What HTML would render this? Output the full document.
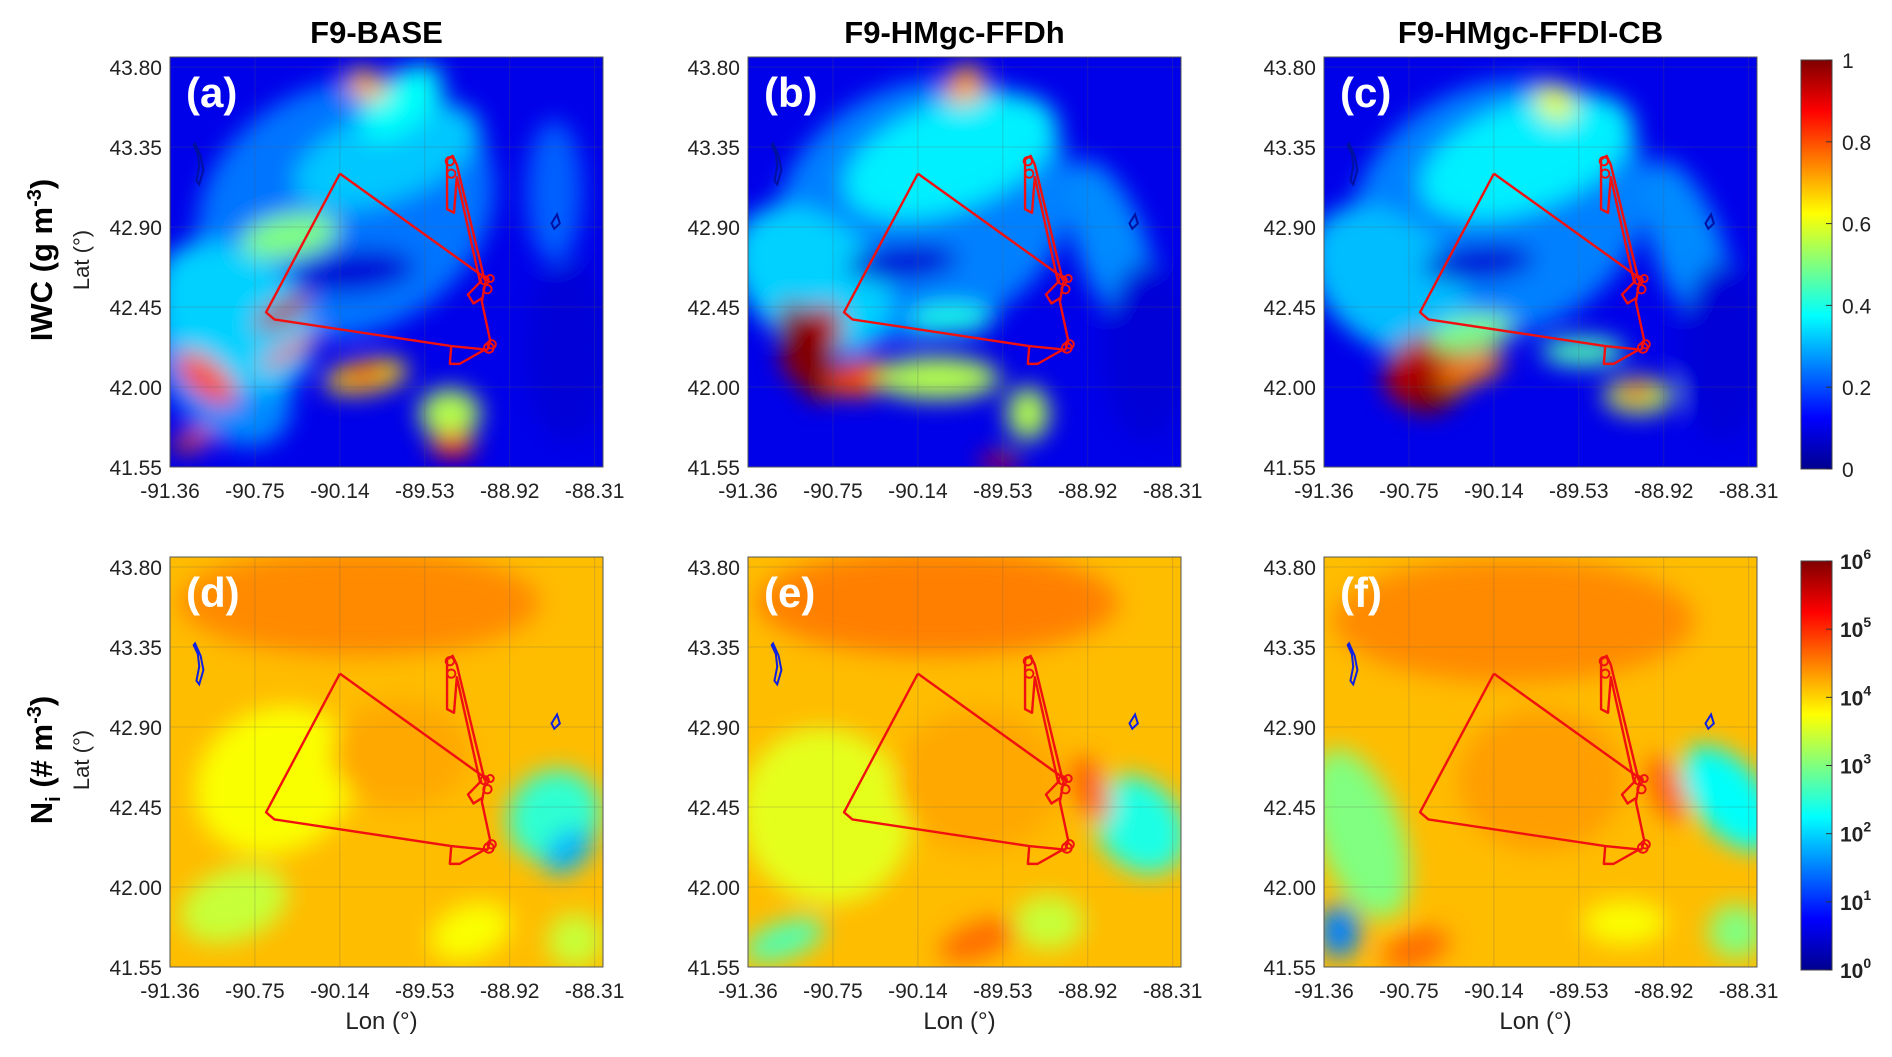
<!DOCTYPE html>
<html><head><meta charset="utf-8">
<style>
html,body{margin:0;padding:0;background:#fff;}
svg{display:block;font-family:"Liberation Sans",sans-serif;}
</style></head>
<body>
<svg id="fig" width="1892" height="1057" viewBox="0 0 1892 1057" xmlns="http://www.w3.org/2000/svg">
<defs>
<filter id="blur" x="-50%" y="-50%" width="200%" height="200%"><feGaussianBlur stdDeviation="12"/></filter>
<linearGradient id="jet" x1="0" y1="1" x2="0" y2="0">
<stop offset="0" stop-color="#00008f"/><stop offset="0.125" stop-color="#0000ff"/><stop offset="0.375" stop-color="#00ffff"/><stop offset="0.625" stop-color="#ffff00"/><stop offset="0.875" stop-color="#ff0000"/><stop offset="1" stop-color="#800000"/>
</linearGradient>
</defs>
<g id="root"></g>
</svg>
<script>
// ---- data ----
const lonTicks = [-91.36, -90.75, -90.14, -89.53, -88.92, -88.31];
const latTicks = [43.80, 43.35, 42.90, 42.45, 42.00, 41.55];
const lonTickLabels = ["-91.36","-90.75","-90.14","-89.53","-88.92","-88.31"];
const latTickLabels = ["43.80","43.35","42.90","42.45","42.00","41.55"];
const panelTitles = ["F9-BASE","F9-HMgc-FFDh","F9-HMgc-FFDl-CB"];
const panelLetters = ["(a)","(b)","(c)","(d)","(e)","(f)"];
const iwcTicks = [0,0.2,0.4,0.6,0.8,1];
const niTickExps = [0,1,2,3,4,5,6];
// flight track (lon, lat)
const trackMain = [[-90.14,43.20],[-90.67,42.42],[-90.61,42.38],[-89.34,42.23],[-89.08,42.21],[-89.06,42.26],[-89.12,42.48],[-89.09,42.61],[-90.14,43.20]];
const trackNorth = [[-89.10,42.60],[-89.30,43.25],[-89.33,43.30],[-89.37,43.28],[-89.37,43.00],[-89.32,42.98],[-89.30,43.18],[-89.13,42.58]];
const trackBox1 = [[-89.34,42.23],[-89.35,42.13],[-89.28,42.13],[-89.10,42.21]];
const trackBox2 = [[-89.12,42.60],[-89.22,42.52],[-89.18,42.47],[-89.12,42.50]];
const loops = [[-89.07,42.22,0.035],[-89.05,42.24,0.03],[-89.10,42.60,0.03],[-89.06,42.61,0.025],[-89.08,42.55,0.03],[-89.34,43.20,0.03],[-89.35,43.27,0.03]];
// coastline / lake contours
const lake1 = [[-91.18,43.37],[-91.14,43.30],[-91.12,43.22],[-91.15,43.14],[-91.17,43.16],[-91.15,43.24],[-91.16,43.31],[-91.19,43.36]];
const lake2 = [[-88.62,42.92],[-88.58,42.97],[-88.56,42.92],[-88.60,42.89]];
// heatmap blobs: lon, lat, rx(deg), ry(deg), rot, value
const blobsA = [[-90.1,43.0,1.1,0.7,-25,0.24],[-91.0,42.1,0.4,0.5,-40,0.26],[-89.8,43.3,0.7,0.25,-20,0.32],[-90.9,42.4,0.45,0.5,-50,0.33],[-90.5,42.85,0.35,0.12,-10,0.5],[-89.7,43.6,0.35,0.15,-40,0.38],[-89.95,43.7,0.1,0.12,-60,0.7],[-90.55,42.42,0.22,0.06,-30,0.95],[-90.5,42.2,0.25,0.035,-30,0.88],[-89.95,42.06,0.3,0.09,-10,0.65],[-89.97,42.07,0.17,0.05,-10,0.85],[-89.35,41.85,0.22,0.14,0,0.55],[-89.33,41.67,0.16,0.07,0,0.88],[-91.1,42.05,0.12,0.2,-50,0.8],[-91.2,41.7,0.15,0.05,-20,0.8],[-88.6,43.1,0.2,0.4,0,0.22],[-90.05,42.65,0.45,0.12,-5,0.08],[-88.5,42.2,0.3,0.5,0,0.08]];
const blobsB = [[-90.1,43.0,1.1,0.7,-25,0.25],[-89.9,43.3,0.8,0.3,-20,0.36],[-90.9,42.6,0.45,0.5,-50,0.33],[-88.75,42.8,0.25,0.5,-20,0.26],[-89.8,43.7,0.15,0.1,-50,0.72],[-90.9,42.25,0.3,0.14,-60,0.95],[-90.95,42.2,0.14,0.3,-20,1.0],[-90.55,42.05,0.25,0.1,-10,0.8],[-90.0,42.05,0.45,0.12,0,0.55],[-89.35,41.85,0.15,0.15,0,0.55],[-89.55,41.58,0.15,0.04,0,0.9],[-90.25,42.7,0.4,0.1,-5,0.08],[-89.9,42.38,0.3,0.08,0,0.4],[-88.5,42.2,0.3,0.5,0,0.08]];
const blobsC = [[-90.1,43.0,1.1,0.7,-25,0.25],[-89.9,43.3,0.8,0.3,-20,0.36],[-90.9,42.6,0.45,0.5,-50,0.31],[-88.75,42.8,0.25,0.5,-20,0.26],[-89.7,43.6,0.12,0.12,-50,0.6],[-90.65,42.1,0.3,0.18,-40,0.95],[-90.55,41.97,0.22,0.1,-30,1.0],[-90.3,42.1,0.25,0.08,-20,0.75],[-90.3,42.3,0.3,0.1,-10,0.5],[-89.1,41.95,0.25,0.1,0,0.55],[-89.12,41.97,0.14,0.05,-5,0.88],[-90.25,42.7,0.4,0.1,-5,0.08],[-89.5,42.2,0.3,0.08,0,0.45],[-88.5,42.2,0.3,0.5,0,0.08]];
const blobsD = [[-90.0,43.6,1.3,0.3,0,0.74],[-90.6,42.6,0.6,0.4,-30,0.62],[-88.6,42.4,0.35,0.25,-40,0.42],[-88.5,42.2,0.2,0.1,-40,0.3],[-90.9,41.9,0.4,0.2,-20,0.57],[-89.2,41.75,0.3,0.15,-20,0.62],[-89.7,42.75,0.5,0.3,0,0.71],[-88.45,41.7,0.2,0.15,0,0.57]];
const blobsE = [[-90.0,43.6,1.3,0.3,0,0.75],[-90.8,42.4,0.6,0.5,-30,0.6],[-88.55,42.35,0.3,0.3,-40,0.4],[-88.9,42.55,0.12,0.2,-20,0.78],[-91.1,41.7,0.3,0.1,-20,0.45],[-89.7,42.6,0.6,0.4,0,0.71],[-89.7,41.7,0.3,0.1,-20,0.77],[-89.2,41.8,0.25,0.15,0,0.57]];
const blobsF = [[-90.0,43.5,1.3,0.35,0,0.74],[-91.1,42.3,0.3,0.5,-20,0.5],[-91.25,41.75,0.15,0.15,0,0.25],[-88.45,42.5,0.25,0.35,-40,0.38],[-88.9,42.55,0.12,0.2,-20,0.78],[-89.8,42.6,0.6,0.4,0,0.72],[-90.7,41.65,0.25,0.1,-20,0.77],[-89.2,41.8,0.3,0.12,0,0.62],[-88.4,41.75,0.2,0.15,0,0.5]];
const blobs = [blobsA, blobsB, blobsC, blobsD, blobsE, blobsF];
const bgValues = [0.1, 0.1, 0.1, 0.69, 0.69, 0.69];

// ---- layout ----
const colX = [170, 748, 1324];
const rowY = [57, 557];
const PW = 433, PH = 410;
const LON0 = -91.36, LON1 = -88.25, LAT0 = 41.55, LAT1 = 43.856;
const NS = "http://www.w3.org/2000/svg";
const root = document.getElementById('root');
function mk(tag, attrs, parent) { const e = document.createElementNS(NS, tag); for (const k in attrs) e.setAttribute(k, attrs[k]); (parent || root).appendChild(e); return e; }
function jet(v) {
  const st = [[0,[0,0,143]],[0.125,[0,0,255]],[0.375,[0,255,255]],[0.625,[255,255,0]],[0.875,[255,0,0]],[1,[128,0,0]]];
  v = Math.max(0, Math.min(1, v));
  for (let i = 1; i < st.length; i++) if (v <= st[i][0]) { const t = (v - st[i-1][0]) / (st[i][0] - st[i-1][0]); const a = st[i-1][1], b = st[i][1]; return `rgb(${a.map((c,j)=>Math.round(c+(b[j]-c)*t)).join(',')})`; }
  return 'rgb(128,0,0)';
}
function txt(x, y, s, attrs, parent) { const t = mk('text', Object.assign({x, y}, attrs), parent); t.textContent = s; return t; }

for (let p = 0; p < 6; p++) {
  const px = colX[p % 3], py = rowY[Math.floor(p / 3)];
  const xs = lon => px + (lon - LON0) / (LON1 - LON0) * PW;
  const ys = lat => py + (LAT1 - lat) / (LAT1 - LAT0) * PH;
  const g = mk('g', {});
  
  
  const cp = mk('clipPath', {id: 'cp' + p}, g);
  mk('rect', {x: px, y: py, width: PW, height: PH}, cp);
  const inner = mk('g', {'clip-path': `url(#cp${p})`}, g);
  const bg = mk('rect', {x: px, y: py, width: PW, height: PH, fill: jet(bgValues[p])}, inner);
  
  
  const bl = mk('g', {filter: 'url(#blur)'}, inner);
  blobs[p].forEach(b => {
    const sx = PW / (LON1 - LON0), sy = PH / (LAT1 - LAT0);
    const e = mk('ellipse', {cx: xs(b[0]), cy: ys(b[1]), rx: b[2] * sx, ry: b[3] * sy, fill: jet(b[5]), transform: `rotate(${b[4]} ${xs(b[0])} ${ys(b[1])})`}, bl);
    
    
  });
  lonTicks.forEach(l => mk('line', {x1: xs(l), x2: xs(l), y1: py, y2: py + PH, stroke: 'rgba(90,90,90,0.25)', 'stroke-width': 1}, inner));
  latTicks.forEach(l => mk('line', {x1: px, x2: px + PW, y1: ys(l), y2: ys(l), stroke: 'rgba(90,90,90,0.25)', 'stroke-width': 1}, inner));
  [lake1, lake2].forEach(c => {
    const pl = mk('polygon', {points: c.map(q => xs(q[0]) + ',' + ys(q[1])).join(' '), fill: 'none', stroke: p < 3 ? '#0010a0' : '#1020e0', 'stroke-width': 2}, inner);
    
    
  });
  [trackMain, trackNorth, trackBox1, trackBox2].forEach(tr => {
    const pl = mk('polyline', {points: tr.map(q => xs(q[0]) + ',' + ys(q[1])).join(' '), fill: 'none', stroke: '#f01010', 'stroke-width': 2.4, 'stroke-linejoin': 'round'}, inner);
    
    
  });
  loops.forEach(l => {
    const c = mk('circle', {cx: xs(l[0]), cy: ys(l[1]), r: l[2] * PW / (LON1 - LON0), fill: 'none', stroke: '#f01010', 'stroke-width': 2}, inner);
    
    
  });
  mk('rect', {x: px, y: py, width: PW, height: PH, fill: 'none', stroke: '#555', 'stroke-width': 1}, g);
  const lt = txt(px + 16, py + 50, panelLetters[p], {fill: '#fff', 'font-size': 42, 'font-weight': 'bold'}, g);
  
  
  lonTicks.forEach((l, i) => {
    const t = txt(xs(l), py + PH + 31, lonTickLabels[i], {'font-size': 21, 'text-anchor': 'middle', fill: '#222'}, g);
    
    
  });
  latTicks.forEach((l, i) => {
    const t = txt(px - 8, ys(l) + 8, latTickLabels[i], {'font-size': 21, 'text-anchor': 'end', fill: '#222'}, g);
    
    
  });
  if (p < 3) {
    const t = txt(px + PW / 2 - 10, 43, panelTitles[p], {'font-size': 31, 'font-weight': 'bold', 'text-anchor': 'middle', fill: '#000'}, g);
    
    
  } else {
    const t = txt(px + PW / 2 - 5, 1029, 'Lon (°)', {'font-size': 24, 'text-anchor': 'middle', fill: '#222'}, g);
    
    
  }
}
[[260, 'IWC'], [760, 'Ni']].forEach((r, i) => {
  const lt = txt(0, 0, 'Lat (°)', {'font-size': 22, 'text-anchor': 'middle', fill: '#222', transform: `translate(89 ${r[0]}) rotate(-90)`});
  
  
});
const q1 = mk('text', {'font-size': 31, 'font-weight': 'bold', 'text-anchor': 'middle', transform: 'translate(52 260) rotate(-90)'});


q1.innerHTML = 'IWC (g m<tspan dy="-11" font-size="20">-3</tspan><tspan dy="11">)</tspan>';
const q2 = mk('text', {'font-size': 31, 'font-weight': 'bold', 'text-anchor': 'middle', transform: 'translate(52 760) rotate(-90)'});


q2.innerHTML = 'N<tspan dy="8" font-size="20">i</tspan><tspan dy="-8"> (# m</tspan><tspan dy="-11" font-size="20">-3</tspan><tspan dy="11">)</tspan>';
[[60, 469], [561, 970]].forEach((r, i) => {
  const cb = mk('rect', {x: 1801, y: r[0], width: 31, height: r[1] - r[0], fill: 'url(#jet)', stroke: '#444', 'stroke-width': 1});
  
  
  if (i === 0) {
    iwcTicks.forEach(v => {
      const y = r[1] - v * (r[1] - r[0]);
      mk('line', {x1: 1826, x2: 1832, y1: y, y2: y, stroke: '#333'});
      const t = txt(1842, y + 8, String(v), {'font-size': 21, fill: '#222'});
      
      
    });
  } else {
    niTickExps.forEach(e => {
      const y = r[1] - e / 6 * (r[1] - r[0]);
      mk('line', {x1: 1826, x2: 1832, y1: y, y2: y, stroke: '#333'});
      const t = mk('text', {x: 1840, y: y + 8, 'font-size': 21, 'font-weight': 'bold', fill: '#222'});
      
      
      t.innerHTML = `10<tspan dy="-10" font-size="14">${e}</tspan>`;
    });
  }
});
</script>
</body></html>
